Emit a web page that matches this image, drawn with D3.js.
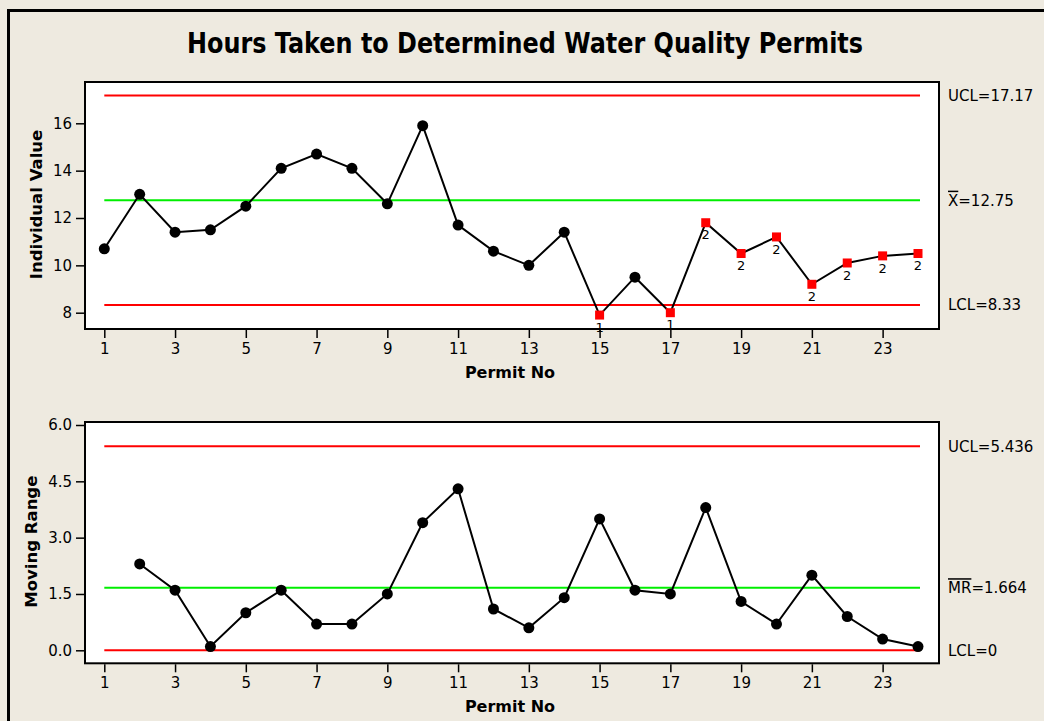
<!DOCTYPE html>
<html>
<head>
<meta charset="utf-8">
<script src="https://cdn.jsdelivr.net/npm/d3@7"></script>
<style>
  html, body { margin: 0; padding: 0; background: #EEEAE0; }
  svg { display: block; }
  text { font-family: "DejaVu Sans", sans-serif; fill: #000; }
</style>
</head>
<body>
<svg id="chart" width="1044" height="721"></svg>
<script>
// ---------- data ----------
const permitNo = d3.range(1, 25);
const individualValues = [10.7, 13.0, 11.4, 11.5, 12.5, 14.1, 14.7, 14.1, 12.6, 15.9,
                          11.7, 10.6, 10.0, 11.4, 7.9, 9.5, 8.0, 11.8, 10.5, 11.2,
                          9.2, 10.1, 10.4, 10.5];
// test-failure flags: 0 = none, 1 = beyond limits, 2 = run on one side of centre
const testFlags = [0,0,0,0,0,0,0,0,0,0, 0,0,0,0,1,0,1,2,2,2, 2,2,2,2];
const movingRange = [null, 2.3, 1.6, 0.1, 1.0, 1.6, 0.7, 0.7, 1.5, 3.4,
                     4.3, 1.1, 0.6, 1.4, 3.5, 1.6, 1.5, 3.8, 1.3, 0.7,
                     2.0, 0.9, 0.3, 0.1];
const iLimits = { ucl: 17.17, center: 12.75, lcl: 8.33 };
const mrLimits = { ucl: 5.436, center: 1.664, lcl: 0 };
const xTickValues = [1, 3, 5, 7, 9, 11, 13, 15, 17, 19, 21, 23];
const iTickValues = [8, 10, 12, 14, 16];
const mrTickValues = [0, 1.5, 3.0, 4.5, 6.0];
const titleText = "Hours Taken to Determined Water Quality Permits";

// ---------- layout ----------
const svg = d3.select("#chart");
const boxLeft = 85, boxRight = 939;
const topBox = { y0: 82, y1: 329 };
const botBox = { y0: 422, y1: 663.3 };

// outer frame (cropped at right/bottom)
svg.append("rect").attr("x", 8.5).attr("y", 10.5).attr("width", 1200).attr("height", 900)
  .attr("fill", "#EEEAE0").attr("stroke", "#000").attr("stroke-width", 3);

// title
svg.append("text").attr("x", 525).attr("y", 53)
  .attr("text-anchor", "middle").attr("font-weight", "bold").attr("font-size", 28.5)
  .attr("textLength", 676).attr("lengthAdjust", "spacingAndGlyphs")
  .text(titleText);

const x = d3.scaleLinear().domain([1, 24]).range([104.3, 918]);
const yI = d3.scaleLinear().domain([8, 16]).range([312.7, 123.3]);
const yMR = d3.scaleLinear().domain([0, 6]).range([650.3, 425]);

function panel(box, y, values, limits, yTicks, yFmt, yTitle, yTitleCx, labels, flags) {
  const g = svg.append("g");
  g.append("rect").attr("x", boxLeft).attr("y", box.y0)
    .attr("width", boxRight - boxLeft).attr("height", box.y1 - box.y0)
    .attr("fill", "#fff").attr("stroke", "#000").attr("stroke-width", 2);

  // axes
  const ya = g.append("g").attr("transform", `translate(${boxLeft - 1},0)`)
    .call(d3.axisLeft(y).tickValues(yTicks).tickSize(8).tickPadding(4).tickFormat(yFmt));
  const xa = g.append("g").attr("transform", `translate(0,${box.y1 + 1})`)
    .call(d3.axisBottom(x).tickValues(xTickValues).tickSize(8).tickPadding(box === topBox ? 5.5 : 5).tickFormat(d3.format("d")));
  [ya, xa].forEach(a => {
    a.select(".domain").remove();
    a.selectAll("line").attr("stroke", "#000").attr("stroke-width", 1.5);
    a.selectAll("text").attr("font-size", 15).attr("font-family", "DejaVu Sans").attr("fill", "#1a1a1a");
  });

  // control lines
  const lim = [
    { v: limits.ucl, c: "#FF0000" },
    { v: limits.center, c: "#00EE00" },
    { v: limits.lcl, c: "#FF0000" }
  ];
  g.selectAll(".cl").data(lim).enter().append("line")
    .attr("x1", x(1)).attr("x2", x(24) + 2)
    .attr("y1", d => y(d.v)).attr("y2", d => y(d.v))
    .attr("stroke", d => d.c).attr("stroke-width", 2);

  // right labels
  labels.forEach((lab, i) => {
    const t = g.append("text").attr("x", 948).attr("y", y(lim[i].v)).attr("dy", "0.36em")
      .attr("font-size", 15).attr("fill", "#1a1a1a");
    lab(t);
  });

  // series
  const pts = permitNo.map((p, i) => ({ p, v: values[i], f: flags ? flags[i] : 0 }))
    .filter(d => d.v != null);
  g.append("path").datum(pts)
    .attr("d", d3.line().x(d => x(d.p)).y(d => y(d.v)))
    .attr("fill", "none").attr("stroke", "#000").attr("stroke-width", 2);

  g.selectAll(".dot").data(pts.filter(d => !d.f)).enter().append("circle")
    .attr("cx", d => x(d.p)).attr("cy", d => y(d.v)).attr("r", 5.5).attr("fill", "#000");

  const flagged = pts.filter(d => d.f);
  g.selectAll(".sq").data(flagged).enter().append("rect")
    .attr("x", d => x(d.p) - 4.5).attr("y", d => y(d.v) - 4.5)
    .attr("width", 9).attr("height", 9).attr("fill", "#FF0000");
  g.selectAll(".fl").data(flagged).enter().append("text")
    .attr("x", d => x(d.p)).attr("y", d => y(d.v) + 12).attr("dy", "0.36em")
    .attr("text-anchor", "middle").attr("font-size", 13).attr("fill", "#1a1a1a")
    .text(d => d.f);

  // axis titles
  g.append("text").attr("transform", `translate(${yTitleCx},${(box.y0 + box.y1) / 2 - 1}) rotate(-90)`)
    .attr("text-anchor", "middle").attr("dy", "0.36em")
    .attr("font-weight", "bold").attr("font-size", 16.5).text(yTitle);
  g.append("text").attr("x", 510).attr("y", box.y1 + 43).attr("dy", "0.36em")
    .attr("text-anchor", "middle").attr("font-weight", "bold").attr("font-size", 16)
    .text("Permit No");
}

panel(topBox, yI, individualValues, iLimits, iTickValues, d3.format("d"), "Individual Value", 36,
  [
    t => t.text("UCL=" + iLimits.ucl),
    t => { t.append("tspan").style("text-decoration", "overline").text("X"); t.append("tspan").text("=" + iLimits.center); },
    t => t.text("LCL=" + iLimits.lcl)
  ], testFlags);

panel(botBox, yMR, movingRange, mrLimits, mrTickValues, d3.format(".1f"), "Moving Range", 31,
  [
    t => t.text("UCL=" + mrLimits.ucl),
    t => { t.append("tspan").style("text-decoration", "overline").text("MR"); t.append("tspan").text("=" + mrLimits.center); },
    t => t.text("LCL=" + mrLimits.lcl)
  ], null);
</script>
</body>
</html>
